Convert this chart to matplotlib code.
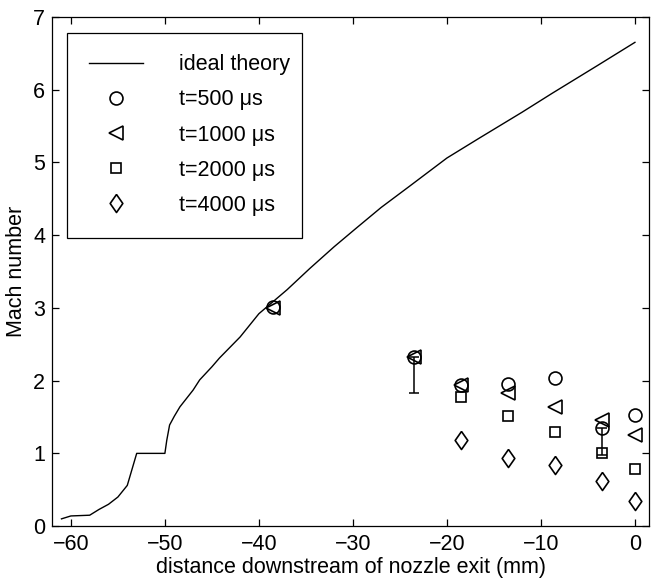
import matplotlib
matplotlib.use("Agg")
import matplotlib.pyplot as plt
from matplotlib.lines import Line2D

plt.rcParams['font.family'] = ['Liberation Sans', 'DejaVu Sans']

# ideal theory curve
theory_x = [-61, -60, -58, -57, -56, -55, -54, -53, -50, -49.8, -49.5, -49,
            -48.4, -47, -46.3, -45, -44.2, -42, -40, -37, -34.6, -32, -29.7,
            -27, -24, -20, -16.6, -12, -8.8, -4, 0]
theory_m = [0.10, 0.14, 0.15, 0.23, 0.30, 0.40, 0.56, 1.0, 1.0, 1.18, 1.39, 1.51,
            1.64, 1.87, 2.01, 2.19, 2.31, 2.60, 2.92, 3.25, 3.54, 3.84, 4.09,
            4.38, 4.67, 5.06, 5.33, 5.69, 5.95, 6.33, 6.65]

# measurements
x_a = [-38.5, -23.5, -18.5, -13.5, -8.5, -3.5, 0]
t500 = [3.01, 2.33, 1.94, 1.95, 2.03, 1.35, 1.53]
t1000 = [3.00, 2.32, 1.94, 1.83, 1.64, 1.46, 1.25]
x_b = [-18.5, -13.5, -8.5, -3.5, 0]
t2000 = [1.78, 1.51, 1.29, 1.00, 0.78]
t4000 = [1.18, 0.94, 0.84, 0.62, 0.35]

# lower error bars on the t=500 points
err_x = [-23.5, -3.5]
err_m = [2.33, 1.35]
err_lo = [0.50, 0.37]

xticks = [-60, -50, -40, -30, -20, -10, 0]
yticks = [0, 1, 2, 3, 4, 5, 6, 7]

diamond = [(0, 1), (0.7, 0), (0, -1), (-0.7, 0), (0, 1)]
fs = 15.5

fig = plt.figure(figsize=(6.51, 5.82), dpi=100)
ax = fig.add_axes([0.080, 0.096, 0.917, 0.875])

ax.plot(theory_x, theory_m, color='black', lw=1.0)

mk = dict(linestyle='none', mfc='none', mec='black', mew=1.2)
ax.plot(x_a, t500, marker='o', ms=9.3, **mk)
ax.plot(x_a, t1000, marker='<', ms=9.5, **mk)
ax.plot(x_b, t2000, marker='s', ms=7.0, **mk)
ax.plot(x_b, t4000, marker=diamond, ms=13, **mk)

ax.errorbar(err_x, err_m, yerr=[err_lo, [0, 0]], fmt='none', ecolor='black',
            elinewidth=1.1, capsize=3.3, capthick=1.1)

ax.set_xlim(-62, 1.5)
ax.set_ylim(0, 7)
ax.set_xticks(xticks)
ax.set_yticks(yticks)
ax.tick_params(direction='in', length=5, width=0.9, top=True, right=True,
               labelsize=fs)
ax.tick_params(axis='x', pad=6)
ax.tick_params(axis='y', pad=5)
for s in ax.spines.values():
    s.set_linewidth(0.9)

ax.set_xlabel('distance downstream of nozzle exit (mm)', fontsize=fs, labelpad=1)
ax.set_ylabel('Mach number', fontsize=fs, labelpad=4.5)

handles = [
    Line2D([], [], color='black', lw=1.0),
    Line2D([], [], marker='o', ms=9.3, **mk),
    Line2D([], [], marker='<', ms=9.5, **mk),
    Line2D([], [], marker='s', ms=7.0, **mk),
    Line2D([], [], marker=diamond, ms=13, **mk),
]
labels = ['ideal theory', 't=500 \u03bcs', 't=1000 \u03bcs', 't=2000 \u03bcs', 't=4000 \u03bcs']
leg = ax.legend(handles, labels, loc='upper left',
                bbox_to_anchor=(0.025, 0.969, 0.394, 0.0), mode='expand',
                borderaxespad=0, fontsize=fs, handlelength=2.55,
                handletextpad=1.67, borderpad=1.0, labelspacing=0.66,
                fancybox=False, framealpha=1, edgecolor='black')
leg.get_frame().set_linewidth(0.9)

fig.savefig('out.png', dpi=100)
